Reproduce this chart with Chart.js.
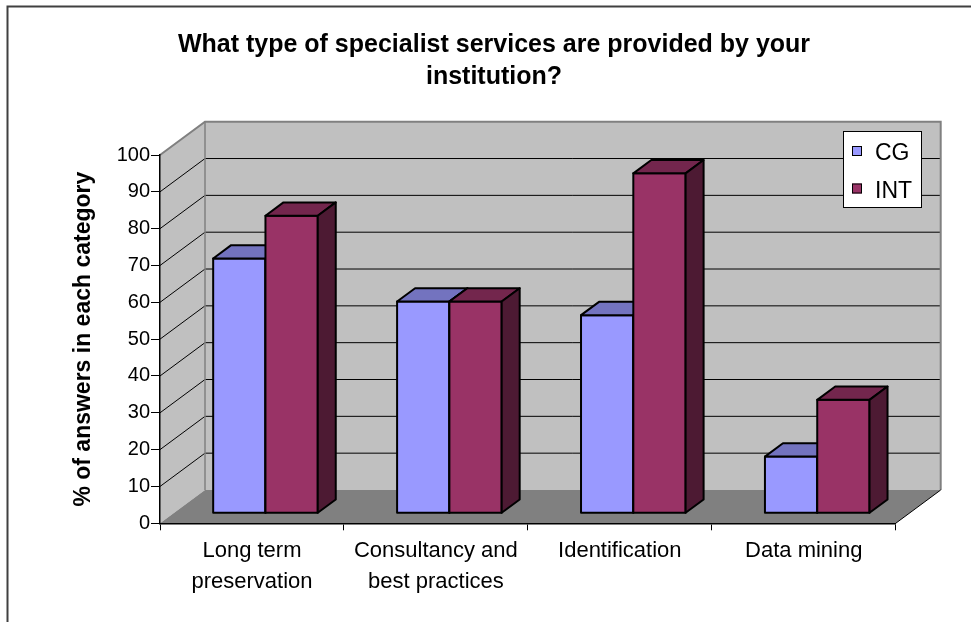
<!DOCTYPE html>
<html>
<head>
<meta charset="utf-8">
<title>Specialist services</title>
<script src="https://cdn.jsdelivr.net/npm/chart.js@4.4.1/dist/chart.umd.min.js"></script>
<style>
  html, body { margin: 0; padding: 0; background: #fff; }
  #wrap { width: 971px; height: 622px; position: relative; }
</style>
</head>
<body>
<div id="wrap"><canvas id="chart"></canvas></div>
<script>
const titleLines = ["What type of specialist services are provided by your", "institution?"]
const yTitle = "% of answers in each category"
const categories = [["Long term", "preservation"], ["Consultancy and", "best practices"], "Identification", "Data mining"]
const seriesNames = ["CG", "INT"]
const cgValues = [69.2, 57.5, 53.8, 15.4]
const intValues = [80.8, 57.5, 92.3, 30.8]
const yMin = 0
const yMax = 100
const yStep = 10

const FONT = "Arial, 'Liberation Sans', sans-serif"
const COLORS = ["#9999FF", "#993366"]

// floor depth of the box, bars sit between 30% and 70% of it
const DEPTH = { x: 45, y: -33.3 }
const BAR_FRONT = 0.3
const BAR_BACK = 0.7

function shade(hex, f) {
  const n = parseInt(hex.slice(1), 16)
  const r = Math.round(((n >> 16) & 255) * f)
  const g = Math.round(((n >> 8) & 255) * f)
  const b = Math.round((n & 255) * f)
  return `rgb(${r}, ${g}, ${b})`
}

function poly(ctx, pts, fill, stroke) {
  ctx.beginPath()
  ctx.moveTo(pts[0][0], pts[0][1])
  for (let i = 1; i < pts.length; i++) ctx.lineTo(pts[i][0], pts[i][1])
  ctx.closePath()
  if (fill) {
    ctx.fillStyle = fill
    ctx.fill()
  }
  if (stroke) {
    ctx.strokeStyle = stroke
    ctx.stroke()
  }
}

function line(ctx, pts, color, width) {
  ctx.beginPath()
  ctx.moveTo(pts[0][0], pts[0][1])
  for (let i = 1; i < pts.length; i++) ctx.lineTo(pts[i][0], pts[i][1])
  ctx.strokeStyle = color
  ctx.lineWidth = width
  ctx.stroke()
}

// back wall, side wall and floor with their gridlines
const walls = {
  id: "walls",
  beforeDraw(chart) {
    const ctx = chart.ctx
    const ys = chart.scales.y
    const { left: L, right: R } = chart.chartArea
    const y0 = ys.getPixelForValue(yMin)
    const yTop = ys.getPixelForValue(yMax)
    const dx = DEPTH.x, dy = DEPTH.y

    ctx.save()
    poly(ctx, [[L + dx, yTop + dy], [R + dx, yTop + dy], [R + dx, y0 + dy], [L + dx, y0 + dy]], "#C0C0C0")
    poly(ctx, [[L, yTop], [L + dx, yTop + dy], [L + dx, y0 + dy], [L, y0]], "#C0C0C0")
    poly(ctx, [[L, y0], [L + dx, y0 + dy], [R + dx, y0 + dy], [R, y0]], "#808080")

    for (let v = yMin + yStep; v < yMax; v += yStep) {
      const y = ys.getPixelForValue(v)
      line(ctx, [[L, y], [L + dx, y + dy], [R + dx, y + dy]], "#000", 1)
    }

    line(ctx, [[L, yTop], [L + dx, yTop + dy], [R + dx, yTop + dy], [R + dx, y0 + dy]], "#808080", 2)
    line(ctx, [[L + dx, yTop + dy], [L + dx, y0 + dy]], "#808080", 1.5)
    line(ctx, [[R, y0], [R + dx, y0 + dy]], "#000", 1)
    ctx.restore()
  }
}

// bars are drawn per category so the INT front covers the CG side face
const bars3d = {
  id: "bars3d",
  beforeDatasetDraw() {
    return false
  },
  afterDatasetsDraw(chart) {
    const ctx = chart.ctx
    const metas = chart.data.datasets.map((_, i) => chart.getDatasetMeta(i))
    const dx = DEPTH.x * (BAR_BACK - BAR_FRONT)
    const dy = DEPTH.y * (BAR_BACK - BAR_FRONT)

    ctx.save()
    ctx.translate(DEPTH.x * BAR_FRONT, DEPTH.y * BAR_FRONT)
    ctx.lineWidth = 2
    ctx.lineJoin = "round"
    categories.forEach((_, i) => {
      metas.forEach((meta, d) => {
        const el = meta.data[i]
        const { x, y, base, width } = el.getProps(["x", "y", "base", "width"], true)
        const left = x - width / 2
        const right = x + width / 2
        const color = chart.data.datasets[d].backgroundColor
        poly(ctx, [[left, y], [right, y], [right, base], [left, base]], color, "#000")
        poly(ctx, [[left, y], [left + dx, y + dy], [right + dx, y + dy], [right, y]], shade(color, 0.75), "#000")
        poly(ctx, [[right, y], [right + dx, y + dy], [right + dx, base + dy], [right, base]], shade(color, 0.5), "#000")
      })
    })
    ctx.restore()
  }
}

// title, legend and the outer frame
const decor = {
  id: "decor",
  afterDraw(chart) {
    const ctx = chart.ctx
    ctx.save()

    line(ctx, [[7.5, 622], [7.5, 6.5], [971, 6.5]], "#404040", 2)

    ctx.fillStyle = "#000"
    ctx.font = `bold 25px ${FONT}`
    ctx.textAlign = "center"
    ctx.textBaseline = "alphabetic"
    titleLines.forEach((t, i) => ctx.fillText(t, 494, 52 + i * 31.5))

    // legend
    ctx.fillStyle = "#fff"
    ctx.fillRect(843, 131, 79, 77)
    ctx.strokeStyle = "#000"
    ctx.lineWidth = 1
    ctx.strokeRect(843.5, 131.5, 78, 76)
    ctx.font = `23px ${FONT}`
    ctx.textAlign = "left"
    chart.data.datasets.forEach((ds, i) => {
      const base = 160 + i * 37.5
      ctx.fillStyle = ds.backgroundColor
      ctx.fillRect(852, base - 14, 10, 10)
      ctx.strokeRect(852.5, base - 13.5, 9, 9)
      ctx.fillStyle = "#000"
      ctx.fillText(ds.label, 875, base)
    })
    ctx.restore()
  }
}

new Chart(document.getElementById("chart"), {
  type: "bar",
  data: {
    labels: categories,
    datasets: [
      { label: seriesNames[0], data: cgValues, backgroundColor: COLORS[0] },
      { label: seriesNames[1], data: intValues, backgroundColor: COLORS[1] }
    ]
  },
  options: {
    responsive: true,
    maintainAspectRatio: false,
    animation: false,
    events: [],
    layout: { padding: { top: 155, right: 75.3, bottom: 0, left: 0 } },
    datasets: {
      bar: { categoryPercentage: 0.5686, barPercentage: 1 }
    },
    plugins: {
      legend: { display: false },
      title: { display: false },
      tooltip: { enabled: false }
    },
    scales: {
      x: {
        afterFit: (scale) => { scale.height = 98.7 },
        grid: { drawOnChartArea: false, drawTicks: true, tickLength: 7, color: "#000" },
        border: { color: "#000", width: 1.5 },
        ticks: {
          color: "#000",
          padding: 5.5,
          maxRotation: 0,
          autoSkip: false,
          font: { family: FONT, size: 22, lineHeight: 1.39 }
        }
      },
      y: {
        min: yMin,
        max: yMax,
        afterFit: (scale) => { scale.width = 160 },
        grid: { drawOnChartArea: false, drawTicks: true, tickLength: 9, color: "#000" },
        border: { color: "#000", width: 1.5 },
        ticks: {
          stepSize: yStep,
          color: "#000",
          padding: 1,
          font: { family: FONT, size: 20 }
        },
        title: {
          display: true,
          text: yTitle,
          color: "#000",
          padding: { top: 70, bottom: 0 },
          font: { family: FONT, size: 23, weight: "bold", lineHeight: 1.2 }
        }
      }
    }
  },
  plugins: [walls, bars3d, decor]
})
</script>
</body>
</html>
